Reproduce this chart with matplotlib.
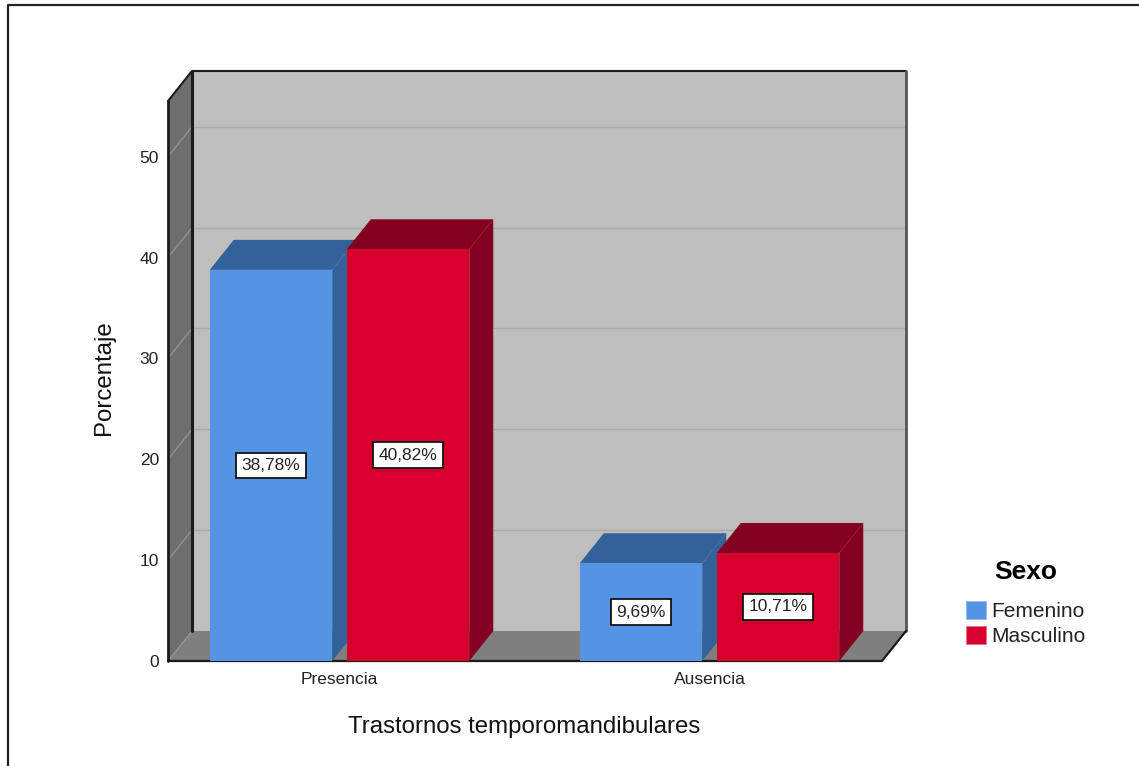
import matplotlib
matplotlib.use("Agg")
import matplotlib.pyplot as plt
from matplotlib.lines import Line2D
from matplotlib.patches import Polygon, Patch

categories = ["Presencia", "Ausencia"]
femenino = [38.78, 9.69]
masculino = [40.82, 10.71]
y_ticks = [0, 10, 20, 30, 40, 50]

plt.rcParams["font.family"] = ["Liberation Sans", "DejaVu Sans"]
W, H = 1139, 766
Y0 = 661
fig = plt.figure(figsize=(W / 100, H / 100), dpi=100, facecolor="white")
ax = fig.add_axes([168 / W, (H - Y0) / H, 714 / W, (Y0 - 101) / H])
ax.patch.set_visible(False)

PX_X = 370.0            # pixels per category
PX_Y = 10.086           # pixels per percent
x0 = -171.5 / PX_X
x1 = 542.5 / PX_X
y1 = (Y0 - 101) / PX_Y
ax.set_xlim(x0, x1)
ax.set_ylim(0, y1)
dx = 24 / PX_X          # depth offset
dy = 30 / PX_Y
bw = 122.5 / PX_X
off = 68.5 / PX_X

BLK = "#1a1a1a"


def poly(pts, fc, z, ec="none", lw=0):
    ax.add_patch(Polygon(pts, closed=True, facecolor=fc, edgecolor=ec, linewidth=lw,
                         zorder=z, clip_on=False, joinstyle="round"))


def seg(xs, ys, c, lw, z):
    ax.plot(xs, ys, color=c, lw=lw, zorder=z, clip_on=False, solid_capstyle="round")


# walls
poly([(x0 + dx, dy), (x1 + dx, dy), (x1 + dx, y1 + dy), (x0 + dx, y1 + dy)], "#bebebe", 1)
poly([(x0, 0), (x0 + dx, dy), (x0 + dx, y1 + dy), (x0, y1)], "#6e6e6e", 1)
poly([(x0, 0), (x1, 0), (x1 + dx, dy), (x0 + dx, dy)], "#7f7f7f", 1)

# gridlines on side and back walls
for t in y_ticks[1:]:
    seg([x0, x0 + dx], [t, t + dy], "#969696", 0.9, 1.5)
    seg([x0 + dx, x1 + dx], [t + dy, t + dy], "#ababab", 1.0, 1.5)
seg([x0, x0 + dx], [0, dy], "#969696", 0.9, 1.5)

# frame of the box
seg([x0, x0], [0, y1], BLK, 2.0, 2)
seg([x0 + dx, x0 + dx], [dy, y1 + dy], BLK, 2.2, 2)
seg([x0, x0 + dx, x1 + dx], [y1, y1 + dy, y1 + dy], BLK, 1.5, 2)
seg([x1 + dx, x1 + dx], [dy, y1 + dy], "#555555", 2.0, 2)
seg([x0, x1, x1 + dx], [0, 0, dy], BLK, 1.6, 2)


def bars(centres, values, front, dark, name, z):
    ax.bar(centres, values, width=bw, color=front, zorder=z + 0.2, label=name)
    for c, v in zip(centres, values):
        l, r = c - bw / 2, c + bw / 2
        poly([(l, v), (r, v), (r + dx, v + dy), (l + dx, v + dy)], dark, z)
        poly([(r, 0), (r + dx, dy), (r + dx, v + dy), (r, v)], dark, z)
        ax.text(c, v / 2, f"{v:.2f}%".replace(".", ","), ha="center", va="center",
                fontsize=12.5, color="#222222", zorder=z + 1,
                bbox=dict(boxstyle="square,pad=0.3", fc="white", ec="#141414", lw=1.3))


pos = list(range(len(categories)))
bars([p - off for p in pos], femenino, "#5593e4", "#336199", "Femenino", 3)
bars([p + off for p in pos], masculino, "#d6002c", "#840020", "Masculino", 4)

for s in ax.spines.values():
    s.set_visible(False)
ax.set_xticks(pos, categories)
ax.set_yticks(y_ticks)
ax.tick_params(axis="both", length=0, labelsize=12.5, labelcolor="#222222")
ax.tick_params(axis="x", pad=7.6)
ax.tick_params(axis="y", pad=6.5)
axh = Y0 - 101
ax.set_xlabel("Trastornos temporomandibulares", fontsize=17.3, color="#111111")
ax.xaxis.set_label_coords((524 - 168) / 714, -(727 - Y0) / axh, transform=ax.transAxes)
ax.xaxis.label.set_va("center")
ax.set_ylabel("Porcentaje", fontsize=17.3, color="#111111")
ax.yaxis.set_label_coords(-(168 - 104) / 714, (Y0 - 378) / axh, transform=ax.transAxes)
ax.yaxis.label.set_va("center")

# legend
handles = [Patch(facecolor="#5593e4", edgecolor="#8fb8ee", lw=0.5, label="Femenino"),
           Patch(facecolor="#d6002c", edgecolor="#e86a84", lw=0.5, label="Masculino")]
leg = fig.legend(handles=handles, title="Sexo", loc="upper left",
                 bbox_to_anchor=(966 / W, (H - 560) / H), frameon=False,
                 fontsize=15, borderpad=0, borderaxespad=0, handlelength=0.96,
                 handleheight=0.96, handletextpad=0.26, labelspacing=0.23,
                 title_fontproperties={"size": 19, "weight": "bold"}, labelcolor="#222222")
leg._legend_box.sep = 12

# outer frame: only the top and left edges reach into the picture
fig.add_artist(Line2D([8 / W, 8 / W, 1], [0, (H - 5) / H, (H - 5) / H],
                      transform=fig.transFigure, color="#222222", lw=1.6))

fig.savefig("out.png", dpi=100)
